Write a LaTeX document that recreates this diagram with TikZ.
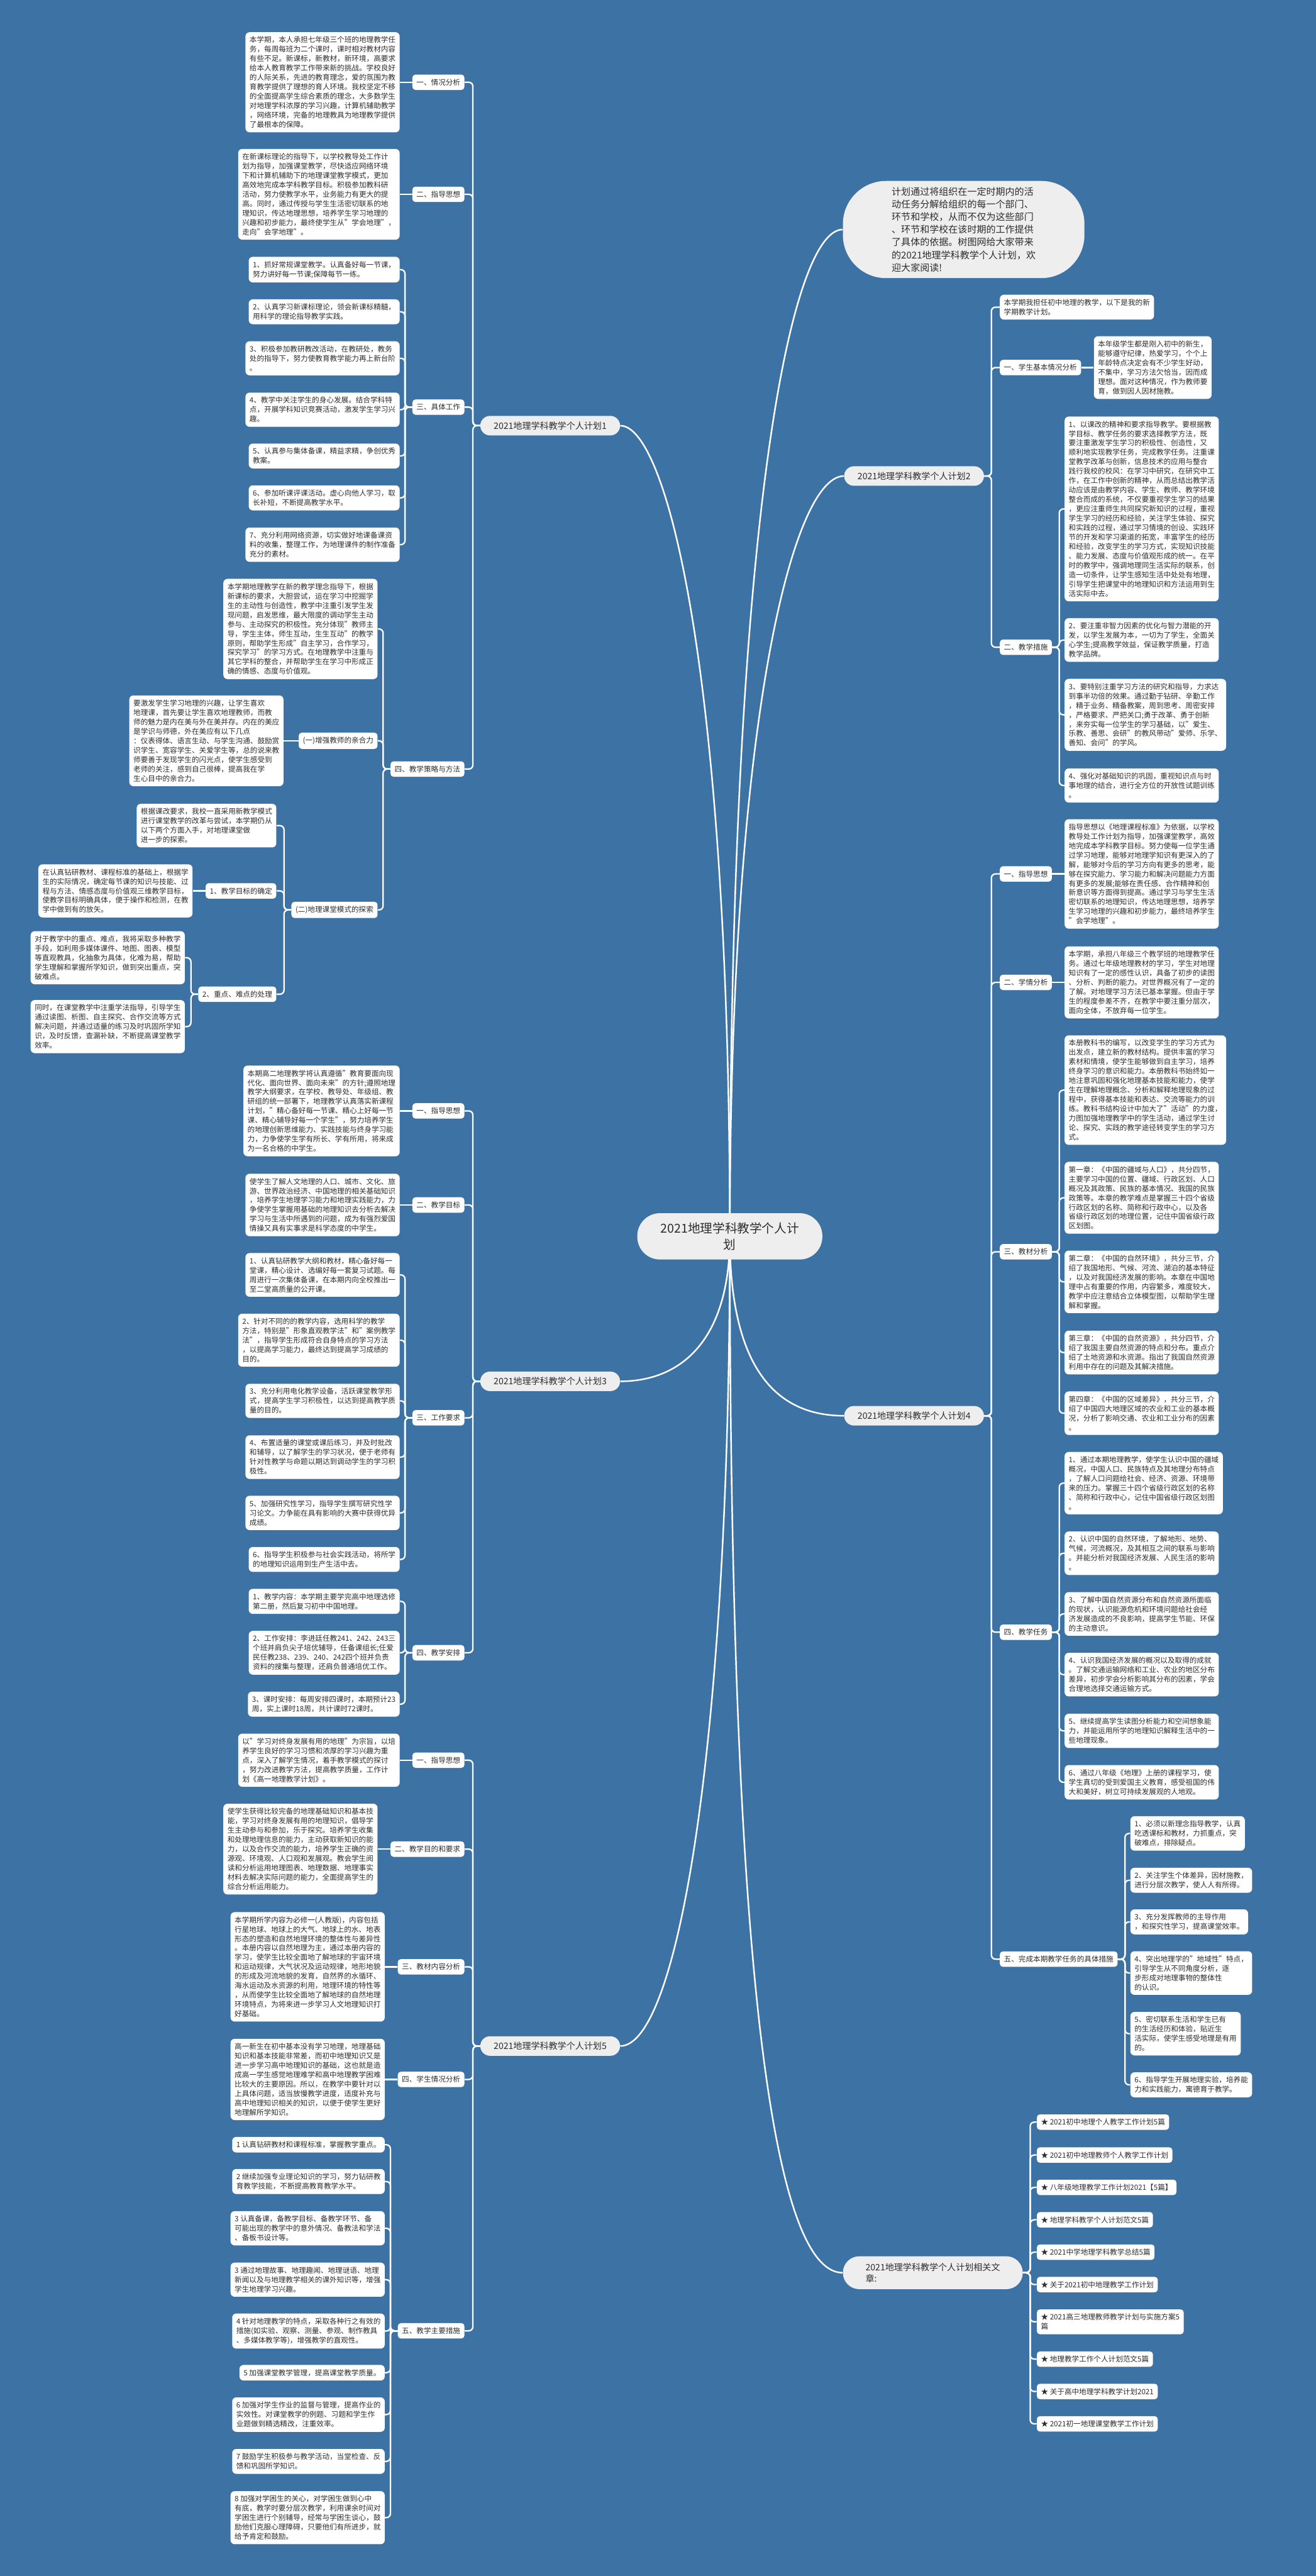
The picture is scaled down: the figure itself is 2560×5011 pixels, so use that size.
\documentclass[tikz,border=0pt]{standalone}
\usepackage{fontspec}
\setmainfont{Noto Sans CJK SC}
\usetikzlibrary{positioning}
\definecolor{bgblue}{RGB}{61,114,165}
\definecolor{nodegray}{RGB}{238,238,238}
\definecolor{txtgray}{RGB}{45,45,45}
\pgfdeclarelayer{back}
\pgfdeclarelayer{links}
\pgfsetlayers{back,links,main}
\newcommand\bodyfont{\fontsize{7.1pt}{9.15pt}\selectfont}
\newcommand\planfont{\fontsize{8.6pt}{11pt}\selectfont}

\begin{document}
\begin{tikzpicture}[x=0.5pt, y=-0.5pt,
        txt/.style={fill=white, rounded corners=4pt, text=txtgray, font=\bodyfont, align=left, inner xsep=4pt, inner ysep=4.2pt},
        lab/.style={txt, rounded corners=3pt},
        plan/.style={fill=nodegray, rounded corners=9.5pt, text=txtgray, font=\planfont, minimum width=136pt, minimum height=19pt, inner sep=2pt},
        lk/.style={draw=white, line width=1.4pt, rounded corners=4pt},
        mainlk/.style={draw=white, line width=1.5pt},
        lbr/.style={to path={-- ++(-14,0) |- (\tikztotarget)}},
        rbr/.style={to path={-- ++(14,0) |- (\tikztotarget)}}
    ]
        \useasboundingbox (0,0) rectangle (2560,5011);
        \begin{pgfonlayer}{back}
            \fill[bgblue] (0,0) rectangle (2560,5011);
        \end{pgfonlayer}

        % centre and intro
        \node[fill=nodegray, rounded corners=22pt, minimum width=180pt, minimum height=45pt, align=center, text=txtgray, font=\fontsize{12pt}{16pt}\selectfont] (c0) at (1420,2405) {2021地理学科教学个人计\\划};
        \node[fill=nodegray, rounded corners=42pt, minimum width=235pt, minimum height=94.5pt, align=left, text=txtgray, font=\fontsize{9.2pt}{12.35pt}\selectfont] (intro) at (1875,446.5) {计划通过将组织在一定时期内的活\\动任务分解给组织的每一个部门、\\环节和学校，从而不仅为这些部门\\、环节和学校在该时期的工作提供\\了具体的依据。树图网给大家带来\\的2021地理学科教学个人计划，欢\\迎大家阅读!};

        \node[plan] (p1) at (1070.5,828)  {2021地理学科教学个人计划1};
        \node[plan] (p2) at (1778.5,926)  {2021地理学科教学个人计划2};
        \node[plan] (p3) at (1070.5,2687) {2021地理学科教学个人计划3};
        \node[plan] (p4) at (1778.5,2754) {2021地理学科教学个人计划4};
        \node[plan] (p5) at (1070.5,3980) {2021地理学科教学个人计划5};
        \node[plan, align=left, minimum width=175pt, minimum height=32pt, rounded corners=16pt] (rel) at (1815,4421) {2021地理学科教学个人计划相关文\\章:};

        % plan 1
        \node[lab, anchor=east] (p1a) at (904,160)  {一、情况分析};
        \node[lab, anchor=east] (p1b) at (904,378)  {二、指导思想};
        \node[lab, anchor=east] (p1c) at (904,792)  {三、具体工作};
        \node[lab, anchor=east] (p1d) at (904,1496) {四、教学策略与方法};
        \node[txt, anchor=east] (p1at) at (778,160) {本学期，本人承担七年级三个班的地理教学任\\务，每周每班为二个课时，课时相对教材内容\\有些不足。新课标，新教材，新环境，高要求\\给本人教育教学工作带来新的挑战。学校良好\\的人际关系，先进的教育理念，爱的氛围为教\\育教学提供了理想的育人环境。我校坚定不移\\的全面提高学生综合素质的理念，大多数学生\\对地理学科浓厚的学习兴趣，计算机辅助教学\\，网络环境，完备的地理教具为地理教学提供\\了最根本的保障。};
        \node[txt, anchor=east] (p1bt) at (778,378) {在新课标理论的指导下，以学校教导处工作计\\划为指导，加强课堂教学，尽快适应网络环境\\下和计算机辅助下的地理课堂教学模式，更加\\高效地完成本学科教学目标。积极参加教科研\\活动，努力使教学水平，业务能力有更大的提\\高。同时，通过传授与学生生活密切联系的地\\理知识，传达地理思想，培养学生学习地理的\\兴趣和初步能力，最终使学生从"学会地理"，\\走向"会学地理"。};
        \node[txt, anchor=east] (p1c1) at (778,524.5) {1、抓好常规课堂教学。认真备好每一节课，\\努力讲好每一节课;保障每节一练。};
        \node[txt, anchor=east] (p1c2) at (778,606.5) {2、认真学习新课标理论，领会新课标精髓，\\用科学的理论指导教学实践。};
        \node[txt, anchor=east] (p1c3) at (778,697)   {3、积极参加教研教改活动，在教研处，教务\\处的指导下，努力使教育教学能力再上新台阶\\。};
        \node[txt, anchor=east] (p1c4) at (778,797)   {4、教学中关注学生的身心发展。结合学科特\\点，开展学科知识竞赛活动，激发学生学习兴\\趣。};
        \node[txt, anchor=east] (p1c5) at (778,887)   {5、认真参与集体备课，精益求精，争创优秀\\教案。};
        \node[txt, anchor=east] (p1c6) at (778,968.5) {6、参加听课评课活动。虚心向他人学习，取\\长补短，不断提高教学水平。};
        \node[txt, anchor=east] (p1c7) at (778,1059.5) {7、充分利用网络资源，切实做好地课备课资\\料的收集，整理工作，为地理课件的制作准备\\充分的素材。};
        \node[txt, anchor=east] (p1d0) at (735,1223.5) {本学期地理教学在新的教学理念指导下，根据\\新课标的要求，大胆尝试，运在学习中挖掘学\\生的主动性与创造性，教学中注重引发学生发\\现问题，启发思维，最大限度的调动学生主动\\参与、主动探究的积极性。充分体现"教师主\\导，学生主体，师生互动，生生互动"的教学\\原则，帮助学生形成"自主学习，合作学习，\\探究学习"的学习方式。在地理教学中注重与\\其它学科的整合，并帮助学生在学习中形成正\\确的情感、态度与价值观。};
        \node[lab, anchor=east] (p1d1) at (735,1441) {(一)增强教师的亲合力};
        \node[txt, anchor=east] (p1d1t) at (552,1441) {要激发学生学习地理的兴趣，让学生喜欢\\地理课，首先要让学生喜欢地理教师，而教\\师的魅力是内在美与外在美并存。内在的美应\\是学识与师德，外在美应有以下几点\\：仪表得体、语言生动、与学生沟通、鼓励赏\\识学生、宽容学生、关爱学生等，总的说来教\\师要善于发现学生的闪光点，使学生感受到\\老师的关注，感到自己很棒，提高我在学\\生心目中的亲合力。};
        \node[lab, anchor=east] (p1d2) at (735,1770) {(二)地理课堂模式的探索};
        \node[txt, anchor=east] (p1d2t) at (538,1606) {根据课改要求，我校一直采用新教学模式\\进行课堂教学的改革与尝试，本学期仍从\\以下两个方面入手，对地理课堂做\\进一步的探索。};
        \node[lab, anchor=east] (p1d2a) at (538,1733) {1、教学目标的确定};
        \node[txt, anchor=east] (p1d2at) at (375,1733) {在认真钻研教材、课程标准的基础上，根据学\\生的实际情况，确定每节课的知识与技能、过\\程与方法、情感态度与价值观三维教学目标，\\使教学目标明确具体，便于操作和检测，在教\\学中做到有的放矢。};
        \node[lab, anchor=east] (p1d2b) at (538,1934) {2、重点、难点的处理};
        \node[txt, anchor=east] (p1d2b1) at (360,1863) {对于教学中的重点、难点，我将采取多种教学\\手段，如利用多媒体课件、地图、图表、模型\\等直观教具，化抽象为具体，化难为易，帮助\\学生理解和掌握所学知识，做到突出重点，突\\破难点。};
        \node[txt, anchor=east] (p1d2b2) at (360,1997) {同时，在课堂教学中注重学法指导，引导学生\\通过读图、析图、自主探究、合作交流等方式\\解决问题，并通过适量的练习及时巩固所学知\\识，及时反馈，查漏补缺，不断提高课堂教学\\效率。};

        % plan 3
        \node[lab, anchor=east] (p3a) at (904,2161) {一、指导思想};
        \node[lab, anchor=east] (p3b) at (904,2344) {二、教学目标};
        \node[lab, anchor=east] (p3c) at (904,2758) {三、工作要求};
        \node[lab, anchor=east] (p3d) at (904,3215) {四、教学安排};
        \node[txt, anchor=east] (p3at) at (778,2161) {本期高二地理教学将认真遵循"教育要面向现\\代化、面向世界、面向未来"的方针;遵照地理\\教学大纲要求，在学校、教导处、年级组、教\\研组的统一部署下，地理教学认真落实新课程\\计划，"精心备好每一节课、精心上好每一节\\课、精心辅导好每一个学生"，努力培养学生\\的地理创新思维能力、实践技能与终身学习能\\力，力争使学生学有所长、学有所用，将来成\\为一名合格的中学生。};
        \node[txt, anchor=east] (p3bt) at (778,2344) {使学生了解人文地理的人口、城市、文化、旅\\游、世界政治经济、中国地理的相关基础知识\\，培养学生地理学习能力和地理实践能力，力\\争使学生掌握用基础的地理知识去分析去解决\\学习与生活中所遇到的问题，成为有强烈爱国\\情操又具有实事求是科学态度的中学生。};
        \node[txt, anchor=east] (p3c1) at (778,2480)   {1、认真钻研教学大纲和教材，精心备好每一\\堂课，精心设计、选编好每一套复习试题。每\\周进行一次集体备课，在本期内向全校推出一\\至二堂高质量的公开课。};
        \node[txt, anchor=east] (p3c2) at (778,2607)   {2、针对不同的的教学内容，选用科学的教学\\方法，特别是"形象直观教学法"和"案例教学\\法"，指导学生形成符合自身特点的学习方法\\，以提高学习能力，最终达到提高学习成绩的\\目的。};
        \node[txt, anchor=east] (p3c3) at (778,2725)   {3、充分利用电化教学设备，活跃课堂教学形\\式，提高学生学习积极性，以达到提高教学质\\量的目的。};
        \node[txt, anchor=east] (p3c4) at (778,2834.5) {4、布置适量的课堂或课后练习，并及时批改\\和辅导，以了解学生的学习状况，便于老师有\\针对性教学与命题以期达到调动学生的学习积\\极性。};
        \node[txt, anchor=east] (p3c5) at (778,2943)   {5、加强研究性学习，指导学生撰写研究性学\\习论文。力争能在具有影响的大赛中获得优异\\成绩。};
        \node[txt, anchor=east] (p3c6) at (778,3033.5) {6、指导学生积极参与社会实践活动，将所学\\的地理知识运用到生产生活中去。};
        \node[txt, anchor=east] (p3d1) at (778,3115) {1、教学内容：本学期主要学完高中地理选修\\第二册，然后复习初中中国地理。};
        \node[txt, anchor=east] (p3d2) at (778,3215) {2、工作安排：李进廷任教241、242、243三\\个班并肩负尖子培优辅导，任备课组长;任爱\\民任教238、239、240、242四个班并负责\\资料的搜集与整理，还肩负普通培优工作。};
        \node[txt, anchor=east] (p3d3) at (778,3315) {3、课时安排：每周安排四课时，本期预计23\\周，实上课时18周，共计课时72课时。};

        % plan 5
        \node[lab, anchor=east] (p5a) at (904,3424) {一、指导思想};
        \node[lab, anchor=east] (p5b) at (904,3597) {二、教学目的和要求};
        \node[lab, anchor=east] (p5c) at (904,3826) {三、教材内容分析};
        \node[lab, anchor=east] (p5d) at (904,4045) {四、学生情况分析};
        \node[lab, anchor=east] (p5e) at (904,4534) {五、教学主要措施};
        \node[txt, anchor=east] (p5at) at (778,3424) {以"学习对终身发展有用的地理"为宗旨，以培\\养学生良好的学习习惯和浓厚的学习兴趣为重\\点，深入了解学生情况，着手教学模式的探讨\\，努力改进教学方法，提高教学质量，工作计\\划《高一地理教学计划》。};
        \node[txt, anchor=east] (p5bt) at (735,3597) {使学生获得比较完备的地理基础知识和基本技\\能，学习对终身发展有用的地理知识，倡导学\\生主动参与和参加，乐于探究。培养学生收集\\和处理地理信息的能力，主动获取新知识的能\\力，以及合作交流的能力，培养学生正确的资\\源观、环境观、人口观和发展观。教会学生阅\\读和分析运用地理图表、地理数据、地理事实\\材料去解决实际问题的能力，全面提高学生的\\综合分析运用能力。};
        \node[txt, anchor=east] (p5ct) at (749,3826) {本学期所学内容为必修一(人教版)，内容包括\\行星地球、地球上的大气、地球上的水、地表\\形态的塑造和自然地理环境的整体性与差异性\\。本册内容以自然地理为主，通过本册内容的\\学习，使学生比较全面地了解地球的宇宙环境\\和运动规律，大气状况及运动规律，地形地貌\\的形成及河流地貌的发育，自然界的水循环、\\海水运动及水资源的利用，地理环境的特性等\\，从而使学生比较全面地了解地球的自然地理\\环境特点，为将来进一步学习人文地理知识打\\好基础。};
        \node[txt, anchor=east] (p5dt) at (749,4045) {高一新生在初中基本没有学习地理，地理基础\\知识和基本技能非常差，而初中地理知识又是\\进一步学习高中地理知识的基础，这也就是造\\成高一学生感觉地理难学和高中地理教学困难\\比较大的主要原因。所以，在教学中要针对以\\上具体问题，适当放慢教学进度，适度补充与\\高中地理知识相关的知识，以便于使学生更好\\地理解所学知识。};
        \node[txt, anchor=east] (p5e1) at (749,4172)   {1 认真钻研教材和课程标准，掌握教学重点。};
        \node[txt, anchor=east] (p5e2) at (749,4243.5) {2 继续加强专业理论知识的学习，努力钻研教\\育教学技能，不断提高教育教学水平。};
        \node[txt, anchor=east] (p5e3) at (749,4334.5) {3 认真备课，备教学目标、备教学环节、备\\可能出现的教学中的意外情况、备教法和学法\\、备板书设计等。};
        \node[txt, anchor=east] (p5e4) at (749,4434.5) {3 通过地理故事、地理趣闻、地理谜语、地理\\新闻以及与地理教学相关的课外知识等，增强\\学生地理学习兴趣。};
        \node[txt, anchor=east] (p5e5) at (749,4534.5) {4 针对地理教学的特点，采取各种行之有效的\\措施(如实验、观察、测量、参观、制作教具\\、多媒体教学等)，增强教学的直观性。};
        \node[txt, anchor=east] (p5e6) at (749,4615.5) {5 加强课堂教学管理，提高课堂教学质量。};
        \node[txt, anchor=east] (p5e7) at (749,4697)   {6 加强对学生作业的监督与管理，提高作业的\\实效性。对课堂教学的例题、习题和学生作\\业题做到精选精改，注重效率。};
        \node[txt, anchor=east] (p5e8) at (749,4788)   {7 鼓励学生积极参与教学活动，当堂检查、反\\馈和巩固所学知识。};
        \node[txt, anchor=east] (p5e9) at (749,4897.5) {8 加强对学困生的关心，对学困生做到心中\\有底，教学时要分层次教学，利用课余时间对\\学困生进行个别辅导，经常与学困生谈心，鼓\\励他们克服心理障碍，只要他们有所进步，就\\给予肯定和鼓励。};

        % plan 2
        \node[txt, anchor=west] (p2o) at (1945,597.5) {本学期我担任初中地理的教学，以下是我的新\\学期教学计划。};
        \node[lab, anchor=west] (p2a) at (1945,715)  {一、学生基本情况分析};
        \node[lab, anchor=west] (p2b) at (1945,1259) {二、教学措施};
        \node[txt, anchor=west] (p2at) at (2128,715) {本年级学生都是刚入初中的新生，\\能够遵守纪律，热爱学习，个个上\\年龄特点决定会有不少学生好动，\\不集中，学习方法欠恰当，因而成\\理想。面对这种情况，作为教师要\\育，做到因人因材施教。};
        \node[txt, anchor=west] (p2b1) at (2071,990) {1、以课改的精神和要求指导教学。要根据教\\学目标、教学任务的要求选择教学方法，既\\要注重激发学生学习的积极性、创造性，又\\顺利地实现教学任务，完成教学任务。注重课\\堂教学改革与创新，信息技术的应用与整合\\践行我校的校风：在学习中研究，在研究中工\\作，在工作中创新的精神，从而总结出教学活\\动应该是由教学内容、学生、教师、教学环境\\整合而成的系统，不仅要重视学生学习的结果\\，更应注重师生共同探究新知识的过程，重视\\学生学习的经历和经验，关注学生体验、探究\\和实践的过程，通过学习情境的创设、实践环\\节的开发和学习渠道的拓宽，丰富学生的经历\\和经验，改变学生的学习方式，实现知识技能\\、能力发展、态度与价值观形成的统一。在平\\时的教学中，强调地理同生活实际的联系，创\\造一切条件，让学生感知生活中处处有地理，\\引导学生把课堂中的地理知识和方法运用到生\\活实际中去。};
        \node[txt, anchor=west] (p2b2) at (2071,1245) {2、要注重非智力因素的优化与智力潜能的开\\发，以学生发展为本，一切为了学生，全面关\\心学生;提高教学效益，保证教学质量，打造\\教学品牌。};
        \node[txt, anchor=west] (p2b3) at (2071,1390.5) {3、要特别注重学习方法的研究和指导，力求达\\到事半功倍的效果。通过勤于钻研、辛勤工作\\，精于业务、精备教案，周到思考、周密安排\\，严格要求、严把关口;勇于改革、勇于创新\\，来夯实每一位学生的学习基础，以"爱生、\\乐教、善思、会研"的教风带动"爱师、乐学、\\善知、会问"的学风。};
        \node[txt, anchor=west] (p2b4) at (2071,1528) {4、强化对基础知识的巩固，重视知识点与时\\事地理的结合，进行全方位的开放性试题训练\\。};

        % plan 4
        \node[lab, anchor=west] (p4a) at (1945,1700) {一、指导思想};
        \node[lab, anchor=west] (p4b) at (1945,1911) {二、学情分析};
        \node[lab, anchor=west] (p4c) at (1945,2435) {三、教材分析};
        \node[lab, anchor=west] (p4d) at (1945,3175) {四、教学任务};
        \node[lab, anchor=west] (p4e) at (1945,3811) {五、完成本期教学任务的具体措施};
        \node[txt, anchor=west] (p4at) at (2071,1700) {指导思想以《地理课程标准》为依据，以学校\\教导处工作计划为指导，加强课堂教学，高效\\地完成本学科教学目标。努力使每一位学生通\\过学习地理，能够对地理学知识有更深入的了\\解，能够对今后的学习方向有更多的思考，能\\够在探究能力、学习能力和解决问题能力方面\\有更多的发展;能够在责任感、合作精神和创\\新意识等方面得到提高。通过学习与学生生活\\密切联系的地理知识，传达地理思想，培养学\\生学习地理的兴趣和初步能力，最终培养学生\\"会学地理"。};
        \node[txt, anchor=west] (p4bt) at (2071,1911) {本学期，承担八年级三个教学班的地理教学任\\务。通过七年级地理教材的学习，学生对地理\\知识有了一定的感性认识，具备了初步的读图\\、分析、判断的能力。对世界概况有了一定的\\了解。对地理学习方法已基本掌握。但由于学\\生的程度参差不齐，在教学中要注重分层次，\\面向全体，不放弃每一位学生。};
        \node[txt, anchor=west] (p4c1) at (2071,2120.5) {本册教科书的编写，以改变学生的学习方式为\\出发点，建立新的教材结构。提供丰富的学习\\素材和情境，使学生能够做到自主学习，培养\\终身学习的意识和能力。本册教科书始终如一\\地注意巩固和强化地理基本技能和能力，使学\\生在理解地理概念、分析和解释地理现象的过\\程中，获得基本技能和表达、交流等能力的训\\练。教科书结构设计中加大了"活动"的力度，\\力图加强地理教学中的学生活动，通过学生讨\\论、探究、实践的教学途径转变学生的学习方\\式。};
        \node[txt, anchor=west] (p4c2) at (2071,2330) {第一章：《中国的疆域与人口》，共分四节，\\主要学习中国的位置、疆域、行政区划、人口\\概况及其政策、民族的基本情况、我国的民族\\政策等。本章的教学难点是掌握三十四个省级\\行政区划的名称、简称和行政中心，以及各\\省级行政区划的地理位置，记住中国省级行政\\区划图。};
        \node[txt, anchor=west] (p4c3) at (2071,2493.5) {第二章：《中国的自然环境》，共分三节，介\\绍了我国地形、气候、河流、湖泊的基本特征\\，以及对我国经济发展的影响。本章在中国地\\理中占有重要的作用，内容繁多，难度较大，\\教学中应注意结合立体模型图，以帮助学生理\\解和掌握。};
        \node[txt, anchor=west] (p4c4) at (2071,2631) {第三章：《中国的自然资源》，共分四节，介\\绍了我国主要自然资源的特点和分布。重点介\\绍了土地资源和水资源。指出了我国自然资源\\利用中存在的问题及其解决措施。};
        \node[txt, anchor=west] (p4c5) at (2071,2749) {第四章：《中国的区域差异》，共分三节，介\\绍了中国四大地理区域的农业和工业的基本概\\况，分析了影响交通、农业和工业分布的因素\\。};
        \node[txt, anchor=west] (p4d1) at (2071,2885)   {1、通过本期地理教学，使学生认识中国的疆域\\概况，中国人口、民族特点及其地理分布特点\\，了解人口问题给社会、经济、资源、环境带\\来的压力。掌握三十四个省级行政区划的名称\\、简称和行政中心，记住中国省级行政区划图\\。};
        \node[txt, anchor=west] (p4d2) at (2071,3021.5) {2、认识中国的自然环境，了解地形、地势、\\气候，河流概况，及其相互之间的联系与影响\\。并能分析对我国经济发展、人民生活的影响\\。};
        \node[txt, anchor=west] (p4d3) at (2071,3139.5) {3、了解中国自然资源分布和自然资源所面临\\的现状，认识能源危机和环境问题给社会经\\济发展造成的不良影响，提高学生节能、环保\\的主动意识。};
        \node[txt, anchor=west] (p4d4) at (2071,3257.5) {4、认识我国经济发展的概况以及取得的成就\\。了解交通运输网络和工业、农业的地区分布\\差异，初步学会分析影响其分布的因素，学会\\合理地选择交通运输方式。};
        \node[txt, anchor=west] (p4d5) at (2071,3367)   {5、继续提高学生读图分析能力和空间想象能\\力，并能运用所学的地理知识解释生活中的一\\些地理现象。};
        \node[txt, anchor=west] (p4d6) at (2071,3467)   {6、通过八年级《地理》上册的课程学习，使\\学生真切的受到爱国主义教育，感受祖国的伟\\大和美好，树立可持续发展观的人地观。};
        \node[txt, anchor=west] (p4e1) at (2199,3566.5) {1、必须以新理念指导教学，认真\\吃透课标和教材，力抓重点，突\\破难点，排除疑点。};
        \node[txt, anchor=west] (p4e2) at (2199,3657.5) {2、关注学生个体差异，因材施教，\\进行分层次教学，使人人有所得。};
        \node[txt, anchor=west] (p4e3) at (2199,3738.5) {3、充分发挥教师的主导作用\\，和探究性学习，提高课堂效率。};
        \node[txt, anchor=west] (p4e4) at (2199,3838)   {4、突出地理学的"地域性"特点，\\引导学生从不同角度分析，逐\\步形成对地理事物的整体性\\的认识。};
        \node[txt, anchor=west] (p4e5) at (2199,3956)   {5、密切联系生活和学生已有\\的生活经历和体验，贴近生\\活实际，使学生感受地理是有用\\的。};
        \node[txt, anchor=west] (p4e6) at (2199,4055.5) {6、指导学生开展地理实验，培养能\\力和实践能力，寓德育于教学。};

        % related articles
        \node[lab, anchor=west] (r1)  at (2017,4128)   {★ 2021初中地理个人教学工作计划5篇};
        \node[lab, anchor=west] (r2)  at (2017,4192)   {★ 2021初中地理教师个人教学工作计划};
        \node[lab, anchor=west] (r3)  at (2017,4255)   {★ 八年级地理教学工作计划2021【5篇】};
        \node[lab, anchor=west] (r4)  at (2017,4318)   {★ 地理学科教学个人计划范文5篇};
        \node[lab, anchor=west] (r5)  at (2017,4381)   {★ 2021中学地理学科教学总结5篇};
        \node[lab, anchor=west] (r6)  at (2017,4444)   {★ 关于2021初中地理教学工作计划};
        \node[lab, anchor=west] (r7)  at (2017,4516.5) {★ 2021高三地理教师教学计划与实施方案5\\篇};
        \node[lab, anchor=west] (r8)  at (2017,4589)   {★ 地理教学工作个人计划范文5篇};
        \node[lab, anchor=west] (r9)  at (2017,4652)   {★ 关于高中地理学科教学计划2021};
        \node[lab, anchor=west] (r10) at (2017,4715)   {★ 2021初一地理课堂教学工作计划};

        \begin{pgfonlayer}{links}
            \draw[mainlk] (c0.center) .. controls +(0,-1100) and +(90,0) .. (p1.east);
            \draw[mainlk] (c0.center) .. controls +(0,-1400) and +(-100,0) .. (intro.west);
            \draw[mainlk] (c0.center) .. controls +(0,-1000) and +(-100,0) .. (p2.west);
            \draw[mainlk] (c0.center) .. controls +(0,200) and +(120,0) .. (p3.east);
            \draw[mainlk] (c0.center) .. controls +(0,230) and +(-150,0) .. (p4.west);
            \draw[mainlk] (c0.center) .. controls +(0,1000) and +(110,0) .. (p5.east);
            \draw[mainlk] (c0.center) .. controls +(0,1200) and +(-160,0) .. (rel.west);

            \foreach \c in {p1a,p1b,p1c,p1d} \draw[lk] (p1.west) to[lbr] (\c.east);
            \draw[lk] (p1a.west) -- (p1at.east);
            \draw[lk] (p1b.west) -- (p1bt.east);
            \foreach \c in {p1c1,p1c2,p1c3,p1c4,p1c5,p1c6,p1c7} \draw[lk] (p1c.west) to[lbr] (\c.east);
            \foreach \c in {p1d0,p1d1,p1d2} \draw[lk] (p1d.west) to[lbr] (\c.east);
            \draw[lk] (p1d1.west) -- (p1d1t.east);
            \foreach \c in {p1d2t,p1d2a,p1d2b} \draw[lk] (p1d2.west) to[lbr] (\c.east);
            \draw[lk] (p1d2a.west) -- (p1d2at.east);
            \foreach \c in {p1d2b1,p1d2b2} \draw[lk] (p1d2b.west) to[lbr] (\c.east);

            \foreach \c in {p3a,p3b,p3c,p3d} \draw[lk] (p3.west) to[lbr] (\c.east);
            \draw[lk] (p3a.west) -- (p3at.east);
            \draw[lk] (p3b.west) -- (p3bt.east);
            \foreach \c in {p3c1,p3c2,p3c3,p3c4,p3c5,p3c6} \draw[lk] (p3c.west) to[lbr] (\c.east);
            \foreach \c in {p3d1,p3d2,p3d3} \draw[lk] (p3d.west) to[lbr] (\c.east);

            \foreach \c in {p5a,p5b,p5c,p5d,p5e} \draw[lk] (p5.west) to[lbr] (\c.east);
            \draw[lk] (p5a.west) -- (p5at.east);
            \draw[lk] (p5b.west) -- (p5bt.east);
            \draw[lk] (p5c.west) -- (p5ct.east);
            \draw[lk] (p5d.west) -- (p5dt.east);
            \foreach \c in {p5e1,p5e2,p5e3,p5e4,p5e5,p5e6,p5e7,p5e8,p5e9} \draw[lk] (p5e.west) to[lbr] (\c.east);

            \foreach \c in {p2o,p2a,p2b} \draw[lk] (p2.east) to[rbr] (\c.west);
            \draw[lk] (p2a.east) -- (p2at.west);
            \foreach \c in {p2b1,p2b2,p2b3,p2b4} \draw[lk] (p2b.east) to[rbr] (\c.west);

            \foreach \c in {p4a,p4b,p4c,p4d,p4e} \draw[lk] (p4.east) to[rbr] (\c.west);
            \draw[lk] (p4a.east) -- (p4at.west);
            \draw[lk] (p4b.east) -- (p4bt.west);
            \foreach \c in {p4c1,p4c2,p4c3,p4c4,p4c5} \draw[lk] (p4c.east) to[rbr] (\c.west);
            \foreach \c in {p4d1,p4d2,p4d3,p4d4,p4d5,p4d6} \draw[lk] (p4d.east) to[rbr] (\c.west);
            \foreach \c in {p4e1,p4e2,p4e3,p4e4,p4e5,p4e6} \draw[lk] (p4e.east) to[rbr] (\c.west);

            \foreach \c in {r1,r2,r3,r4,r5,r6,r7,r8,r9,r10} \draw[lk] (rel.east) to[rbr] (\c.west);
        \end{pgfonlayer}
    \end{tikzpicture}
\end{document}
